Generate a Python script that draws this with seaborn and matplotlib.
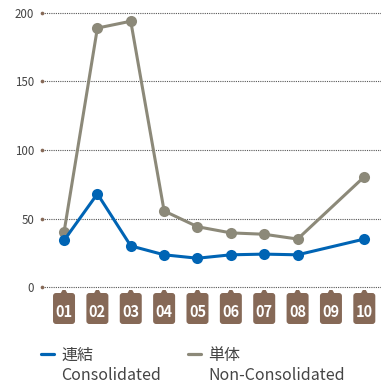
import numpy as np
import pandas as pd
import matplotlib
matplotlib.use("Agg")
import matplotlib.pyplot as plt
import seaborn as sns
from matplotlib.patches import FancyBboxPatch, Polygon
from matplotlib.lines import Line2D

# ---- data ----
periods = ["01", "02", "03", "04", "05", "06", "07", "08", "09", "10"]
consolidated = [34, 68, 30, 23.5, 21, 23.5, 24, 23.5, np.nan, 35]
non_consolidated = [40, 189, 194, 55.5, 44, 39.5, 38.5, 35, np.nan, 80.5]
series_jp = ["連結", "単体"]
series_en = ["Consolidated", "Non-Consolidated"]
y_ticks = [0, 50, 100, 150, 200]

BLUE = "#0064b4"
GREY = "#8c8979"
BROWN = "#866957"
TEXT = "#444444"

sns.set_theme(style="white")
plt.rcParams["font.family"] = ["Noto Sans CJK JP", "DejaVu Sans"]

df = pd.DataFrame({
    "pos": list(range(len(periods))) * 2,
    "value": consolidated + non_consolidated,
    "series": [series_en[0]] * len(periods) + [series_en[1]] * len(periods),
}).dropna()

fig = plt.figure(figsize=(3.81, 3.85), dpi=100)
W, H = 381, 385
ax = fig.add_axes([42 / W, 1 - 287 / H, 1 - 42 / W, (287 - 13) / H])
ax.set_facecolor("none")

sns.lineplot(data=df, x="pos", y="value", hue="series",
             palette={series_en[0]: BLUE, series_en[1]: GREY},
             hue_order=[series_en[1], series_en[0]],
             marker="o", markersize=8, markeredgewidth=0, linewidth=2.2,
             ax=ax, legend=False, clip_on=False)

ax.set_xlim(-0.66, 9.5)
ax.set_ylim(0, 200)
for s in ax.spines.values():
    s.set_visible(False)
ax.set_xlabel("")
ax.set_ylabel("")
ax.set_yticks(y_ticks)
ax.set_yticklabels([str(v) for v in y_ticks], color=TEXT, fontsize=8.3)
ax.tick_params(axis="y", length=0, pad=5.5)
for v in y_ticks:
    ax.axhline(v, color="#555555", linestyle=(0, (1, 1)), linewidth=0.8, zorder=0, clip_on=False)
ax.scatter([ax.get_xlim()[0]] * len(y_ticks), y_ticks, s=7, color=BROWN,
           zorder=3, clip_on=False, linewidths=0)

ax.set_xticks(range(len(periods)))
ax.set_xticklabels(periods, color="white", fontsize=10.5, fontweight="bold")
ax.tick_params(axis="x", length=0, pad=12)

# overlay for tab-shaped tick boxes (pixel units)
ov = fig.add_axes([0, 0, 1, 1], zorder=-1)
ov.set_xlim(0, W)
ov.set_ylim(0, H)
ov.axis("off")
fig.canvas.draw()
for i in range(len(periods)):
    px, _ = ax.transData.transform((i, 0))
    top, bottom = H - 293, H - 324
    ov.add_patch(FancyBboxPatch((px - 11, bottom), 22, top - bottom,
                                boxstyle="round,pad=0,rounding_size=3",
                                fc=BROWN, ec="none"))
    ov.add_patch(Polygon([(px - 3.5, top - 0.5), (px - 1.5, top + 3), (px + 1.5, top + 3), (px + 3.5, top - 0.5)],
                         closed=True, fc=BROWN, ec="none"))

# legend (Japanese line with handles), English line underneath
handles = [Line2D([], [], color=BLUE, linewidth=2.3),
           Line2D([], [], color=GREY, linewidth=2.3)]
leg = fig.legend(handles, series_jp, loc="upper left",
                 bbox_to_anchor=(41 / W, 1 - 347 / H), ncol=2, frameon=False,
                 fontsize=11.5, handlelength=0.8, handletextpad=0.45,
                 columnspacing=5.95, borderpad=0, borderaxespad=0)
for t in leg.get_texts():
    t.set_color(TEXT)
fig.canvas.draw()
for t, en in zip(leg.get_texts(), series_en):
    bb = t.get_window_extent()
    fig.text(bb.x0 / W, 1 - 380 / H, en, fontsize=11.5, color=TEXT,
             ha="left", va="baseline")

fig.savefig("out.png", dpi=100)
